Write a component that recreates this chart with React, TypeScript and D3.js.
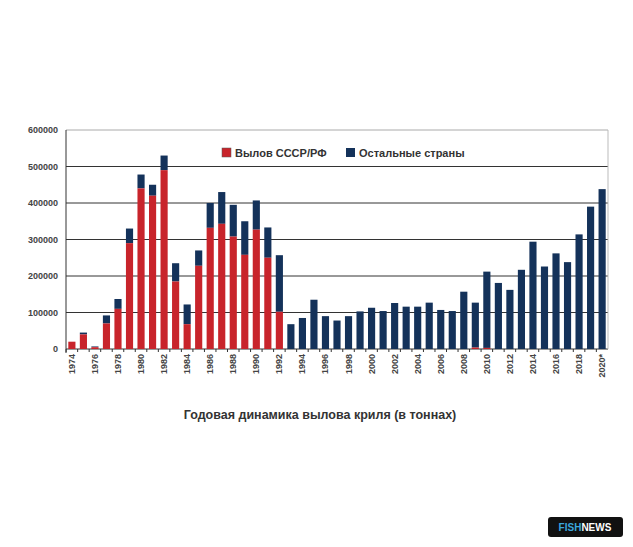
import React from "react";
import * as d3 from "d3";

const years = d3.range(1974, 2021).map(String);
const totals = [20000,45000,7000,92000,137000,330000,478000,450000,530000,235000,122000,270000,400000,430000,395000,350000,407000,333000,257000,68000,85000,135000,90000,78000,90000,103000,113000,104000,126000,116000,116000,127000,107000,104000,157000,127000,212000,181000,162000,217000,294000,226000,262000,238000,314000,390000,438000];
const ussr = [20000,40000,5000,70000,110000,290000,440000,420000,490000,185000,68000,228000,332000,343000,308000,258000,327000,250000,102000,0,0,0,0,0,0,0,0,0,0,0,0,0,0,0,0,4000,3000,0,0,0,0,0,0,0,0,0,0];
const yTicks = [0,100000,200000,300000,400000,500000,600000];
const RED = "#c8242b", NAVY = "#14325a";

export default function App() {
  const L = 66, R = 608, T = 130, B = 349;
  const x = d3.scaleBand().domain(years).range([L, R]).paddingInner(0.38).paddingOuter(0.2);
  const y = d3.scaleLinear().domain([0, 600000]).range([B, T]);
  const f = "Arial, 'Liberation Sans', sans-serif";
  return (
    <svg width={625} height={547} style={{ display: "block", margin: "-8px 0 0 -8px" }} fontFamily={f}>
      <rect width={633} height={547} fill="#fff" />
      {yTicks.map(t => (
        <g key={t}>
          <line x1={L} x2={R} y1={y(t)} y2={y(t)} stroke={t === 600000 ? "#aaa" : "#333"} strokeWidth={1} />
          <text x={L - 8} y={y(t) + 3} textAnchor="end" fontSize={9} fontWeight="bold" fill="#444">{t}</text>
        </g>
      ))}
      <line x1={R} x2={R} y1={T} y2={B} stroke="#bbb" />
      <line x1={L} x2={L} y1={T} y2={B + 4} stroke="#333" />
      {years.map((yr, i) => {
        const xx = x(yr)!, w = x.bandwidth();
        return (
          <g key={yr}>
            <rect x={xx} y={y(totals[i])} width={w} height={y(ussr[i]) - y(totals[i])} fill={NAVY} />
            {ussr[i] > 0 && <rect x={xx} y={y(ussr[i])} width={w} height={B - y(ussr[i])} fill={RED} />}
            <line x1={xx - (x.step() - w) / 2} x2={xx - (x.step() - w) / 2} y1={B} y2={B + 3} stroke="#333" />
            {i % 2 === 0 && (
              <text transform={`translate(${xx + w / 2 + 3},${B + 5}) rotate(-90)`} textAnchor="end" fontSize={9} fontWeight="bold" fill="#444">{yr === "2020" ? "2020*" : yr}</text>
            )}
          </g>
        );
      })}
      <rect x={222} y={148} width={9} height={9} fill={RED} stroke="#555" strokeWidth={0.5} />
      <text x={235} y={157} fontSize={11} fontWeight="bold" fill="#333">Вылов СССР/РФ</text>
      <rect x={346} y={148} width={9} height={9} fill={NAVY} />
      <text x={359} y={157} fontSize={11} fontWeight="bold" fill="#333">Остальные страны</text>
      <text x={320} y={419} textAnchor="middle" fontSize={12.5} fontWeight="bold" fill="#333">Годовая динамика вылова криля (в тоннах)</text>
      <rect x={548} y={517} width={75} height={20} rx={3} fill="#111" />
      <text x={585} y={531} textAnchor="middle" fontSize={10} fontWeight="bold"><tspan fill="#3aa6dc">FISH</tspan><tspan fill="#fff">NEWS</tspan></text>
    </svg>
  );
}
